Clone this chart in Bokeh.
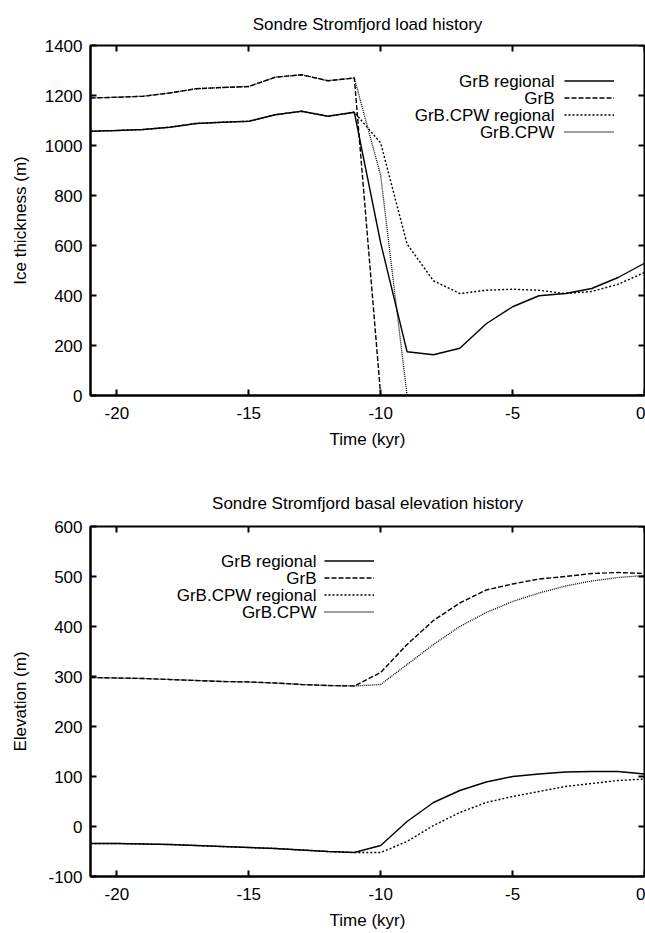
from bokeh.plotting import figure
from bokeh.models import (LinearAxis, FixedTicker, CustomJSTickFormatter, Legend,
                          LegendItem, Label, Range1d)
from bokeh.layouts import column
from bokeh.embed import file_html
from bokeh.resources import INLINE

# ---------------- data ----------------
time_kyr = [-21, -20, -19, -18, -17, -16, -15, -14, -13, -12, -11,
            -10, -9, -8, -7, -6, -5, -4, -3, -2, -1, 0]

series_names = ["GrB regional", "GrB", "GrB.CPW regional", "GrB.CPW"]

# Ice thickness (m)
ice_grb_regional = [1057, 1060, 1064, 1073, 1088, 1093, 1097, 1123, 1137, 1117, 1133,
                    610, 175, 163, 189, 287, 355, 399, 408, 428, 472, 529]
ice_grb = [1190, 1193, 1197, 1210, 1227, 1232, 1236, 1273, 1283, 1259, 1270,
           0, 0, 0, 0, 0, 0, 0, 0, 0, 0, 0]
ice_grb_cpw_regional = [1057, 1060, 1064, 1073, 1088, 1093, 1097, 1123, 1137, 1117, 1133,
                        1010, 606, 459, 408, 421, 425, 421, 408, 416, 445, 492]
ice_grb_cpw = [1190, 1193, 1197, 1210, 1227, 1232, 1236, 1273, 1283, 1259, 1270,
               880, 0, 0, 0, 0, 0, 0, 0, 0, 0, 0]

# Basal elevation (m)
elev_grb_regional = [-34, -34, -35, -36, -38, -40, -42, -44, -47, -50, -52,
                     -38, 10, 48, 72, 89, 100, 105, 109, 110, 110, 105]
elev_grb = [298, 297, 296, 294, 292, 290, 289, 287, 284, 282, 281,
            308, 364, 412, 447, 473, 485, 495, 500, 506, 508, 506]
elev_grb_cpw_regional = [-34, -34, -35, -36, -38, -40, -42, -44, -47, -50, -52,
                         -52, -30, 2, 28, 48, 60, 70, 80, 86, 92, 95]
elev_grb_cpw = [298, 297, 296, 294, 292, 290, 289, 287, 284, 282, 281,
                284, 324, 364, 400, 428, 450, 467, 481, 491, 498, 502]

x_ticks = [-20, -15, -10, -5, 0]
ice_ticks = [0, 200, 400, 600, 800, 1000, 1200, 1400]
elev_ticks = [-100, 0, 100, 200, 300, 400, 500, 600]

# ---------------- style ----------------
FONT = "Liberation Sans"
FS = "17px"
line_styles = [
    dict(line_width=1.4, line_dash="solid"),
    dict(line_width=1.4, line_dash="5 2"),
    dict(line_width=1.4, line_dash="2 2"),
    dict(line_width=1.3, line_dash="1 1"),
]


def make_fig(title, ylabel, yrange, yticks, series, height, b_top, b_bottom,
             title_standoff, ylab_standoff, leg_x, leg_y, leg_row, text_right):
    p = figure(width=645, height=height, x_range=Range1d(-21, 0),
               y_range=Range1d(*yrange), output_backend="svg",
               toolbar_location=None, min_border_left=90, min_border_right=1,
               min_border_top=b_top, min_border_bottom=b_bottom, title=title)
    p.title.align = "center"
    p.title.text_font = FONT
    p.title.text_font_size = FS
    p.title.text_font_style = "normal"
    p.title.text_color = "black"
    p.title.standoff = title_standoff
    p.grid.grid_line_color = None
    p.outline_line_color = "black"
    p.outline_line_width = 2
    p.outline_line_alpha = 1
    p.background_fill_color = "white"
    p.border_fill_color = "white"

    p.xaxis.ticker = FixedTicker(ticks=x_ticks)
    p.yaxis.ticker = FixedTicker(ticks=yticks)
    p.xaxis.major_label_overrides = {t: str(t) for t in x_ticks}
    p.yaxis.major_label_overrides = {t: str(t) for t in yticks}
    p.xaxis.axis_label = "Time (kyr)"
    p.yaxis.axis_label = ylabel
    for ax in (p.xaxis[0], p.yaxis[0]):
        ax.axis_line_width = 2
        ax.major_tick_in = 6
        ax.major_tick_out = 0
        ax.major_tick_line_width = 2
        ax.minor_tick_in = 0
        ax.minor_tick_out = 0
        ax.major_label_text_font = FONT
        ax.major_label_text_font_size = FS
        ax.major_label_text_color = "black"
        ax.axis_label_text_font = FONT
        ax.axis_label_text_font_size = FS
        ax.axis_label_text_font_style = "normal"
        ax.axis_label_text_color = "black"
    p.xaxis.major_label_standoff = 11
    p.xaxis.axis_label_standoff = 8
    p.yaxis.major_label_standoff = 8
    p.yaxis.axis_label_standoff = ylab_standoff

    # mirrored ticks on top and right edges of the frame
    for side, tk, loc in (("above", x_ticks, yrange[1]), ("right", yticks, 0)):
        ax = LinearAxis(ticker=FixedTicker(ticks=tk), fixed_location=loc,
                        formatter=CustomJSTickFormatter(code="return ''"),
                        major_tick_in=6, major_tick_out=0, major_tick_line_width=2,
                        minor_tick_in=0, minor_tick_out=0, axis_line_color=None,
                        major_label_standoff=0)
        p.add_layout(ax, side)

    renderers = []
    for ys, st in zip(series, line_styles):
        r = p.line(time_kyr, ys, line_color="black", **st)
        renderers.append(r)

    leg = Legend(items=[LegendItem(label=" ", renderers=[r]) for r in renderers],
                 location=(leg_x, leg_y), glyph_width=50, glyph_height=leg_row,
                 label_height=0, label_width=0, label_standoff=0, spacing=0,
                 padding=0, margin=0, border_line_color=None,
                 background_fill_alpha=0, label_text_font_size="1px")
    p.add_layout(leg)

    n = len(series_names)
    top = leg_y + n * leg_row
    for i, name in enumerate(series_names):
        p.add_layout(Label(x=text_right, y=top - leg_row / 2 - i * leg_row,
                           x_units="screen", y_units="screen", text=name,
                           text_align="right", text_baseline="middle",
                           text_font=FONT, text_font_size=FS, text_color="black"))
    return p


p1 = make_fig("Sondre Stromfjord load history", "Ice thickness (m)", (0, 1400),
              ice_ticks,
              [ice_grb_regional, ice_grb, ice_grb_cpw_regional, ice_grb_cpw],
              height=470, b_top=44, b_bottom=75, title_standoff=24, ylab_standoff=12,
              leg_x=474, leg_y=255, leg_row=17, text_right=464)
p2 = make_fig("Sondre Stromfjord basal elevation history", "Elevation (m)", (-100, 600),
              elev_ticks,
              [elev_grb_regional, elev_grb, elev_grb_cpw_regional, elev_grb_cpw],
              height=462, b_top=56, b_bottom=54, title_standoff=28, ylab_standoff=15,
              leg_x=234, leg_y=256, leg_row=17, text_right=226)

layout = column(p1, p2, spacing=0)
open("out.html", "w").write(file_html(layout, INLINE))
